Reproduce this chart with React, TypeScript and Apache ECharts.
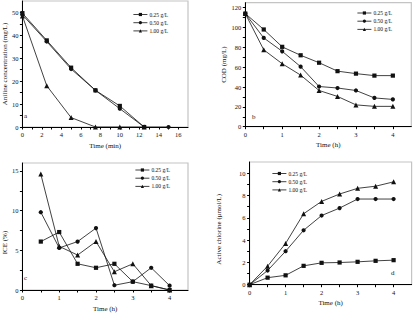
import React, { useEffect, useRef } from "react";
import * as echarts from "echarts";

const FONT = "'Liberation Serif', 'DejaVu Serif', serif";
const NAMES = ["0.25 g/L", "0.50 g/L", "1.00 g/L"];
const SYMBOLS = ["rect", "circle", "triangle"];

// Panel a: aniline concentration vs time (min)
const timeA = [0, 2.5, 5, 7.5, 10, 12.5, 15];
const a025 = [49.7, 37.8, 25.9, 16.0, 9.2, 0];
const a050 = [49.0, 37.3, 25.3, 16.0, 8.0, 0, 0];
const a100 = [48.5, 18.0, 4.1, 0, 0, 0];

// Panel b: COD vs time (h)
const timeB = [0, 0.5, 1, 1.5, 2, 2.5, 3, 3.5, 4];
const b025 = [114, 98, 80.5, 72, 64.5, 56, 53.5, 51.5, 51.5];
const b050 = [114, 89.5, 76, 60.5, 40.5, 39, 36.5, 29, 27.5];
const b100 = [114, 77.5, 63.5, 52, 36.5, 30.5, 22, 20.5, 20.5];

// Panel c: ICE vs time (h)
const timeC = [0.5, 1, 1.5, 2, 2.5, 3, 3.5, 4];
const c025 = [6.1, 7.3, 3.3, 2.8, 3.3, 1.05, 0.55, 0];
const c050 = [9.8, 5.3, 6.1, 7.8, 0.6, 1.05, 2.8, 0.55];
const c100 = [14.6, 5.5, 4.4, 6.1, 2.3, 3.3, 0.55, 0];

// Panel d: active chlorine vs time (h)
const timeD = [0, 0.5, 1, 1.5, 2, 2.5, 3, 3.5, 4];
const d025 = [0, 0.63, 0.84, 1.69, 1.96, 1.99, 2.05, 2.14, 2.2];
const d050 = [0, 1.27, 3.0, 4.88, 6.2, 6.87, 7.68, 7.68, 7.68];
const d100 = [0, 1.66, 3.7, 6.36, 7.47, 8.13, 8.64, 8.83, 9.22];

// Tick labels
const xTicksA = [0, 2, 4, 6, 8, 10, 12, 14, 16];
const yTicksA = [0, 10, 20, 30, 40, 50];
const xTicksH = [0, 1, 2, 3, 4];
const yTicksB = [0, 20, 40, 60, 80, 100, 120];
const yTicksC = [0, 5, 10, 15];
const yTicksD = [0, 2, 4, 6, 8, 10];

const withHalves = (ticks: number[]) => {
  const out: number[] = [];
  for (let i = 0; i < ticks.length; i++) {
    out.push(ticks[i]);
    if (i < ticks.length - 1) out.push((ticks[i] + ticks[i + 1]) / 2);
  }
  return out;
};

const pairs = (xs: number[], ys: number[]) => ys.map((y, i) => [xs[i], y]);

const axisCommon = {
  axisLine: { show: true, onZero: false, lineStyle: { color: "#000", width: 1 } },
  splitLine: { show: false },
};

function xAxis(grid: number, max: number, labels: number[], name: string) {
  return {
    ...axisCommon,
    type: "value",
    gridIndex: grid,
    min: 0,
    max,
    name,
    nameLocation: "middle",
    nameGap: 15,
    nameTextStyle: { fontFamily: FONT, fontSize: 7, color: "#111", fontWeight: "normal" },
    axisTick: { show: true, inside: false, length: 2.5, customValues: withHalves(labels), lineStyle: { color: "#000" } },
    axisLabel: { customValues: labels, fontFamily: FONT, fontSize: 6.5, color: "#111", margin: 4 },
  };
}

function yAxis(grid: number, max: number, labels: number[], name: string, gap: number, pad: number[]) {
  return {
    ...axisCommon,
    type: "value",
    gridIndex: grid,
    min: 0,
    max,
    name,
    nameLocation: "middle",
    nameGap: gap,
    nameTextStyle: { fontFamily: FONT, fontSize: 7, color: "#111", fontWeight: "normal", padding: pad },
    axisTick: { show: true, inside: false, length: 2.5, customValues: withHalves(labels), lineStyle: { color: "#000" } },
    axisLabel: { customValues: labels, fontFamily: FONT, fontSize: 6.5, color: "#111", margin: 4 },
  };
}

function lineSeries(grid: number, idx: number, data: number[][]) {
  return {
    type: "line",
    name: NAMES[idx],
    xAxisIndex: grid,
    yAxisIndex: grid,
    data,
    symbol: SYMBOLS[idx],
    symbolSize: idx === 2 ? 5 : 4.2,
    showAllSymbol: true,
    lineStyle: { color: "#111", width: 0.8 },
    itemStyle: { color: "#111" },
  };
}

function legend(left: number, top: number) {
  return {
    orient: "vertical",
    left,
    top,
    data: NAMES,
    itemWidth: 14,
    itemHeight: 4,
    itemGap: 2.2,
    padding: 0,
    selectedMode: false,
    lineStyle: { width: 0.8, color: "#111" },
    itemStyle: { color: "#111" },
    textStyle: { fontFamily: FONT, fontSize: 5.5, color: "#111", padding: [0, 0, 0, -3] },
  };
}

export default function App() {
  const ref = useRef<HTMLDivElement>(null);
  useEffect(() => {
    if (!ref.current) return;
    const chart = echarts.init(ref.current, undefined, { renderer: "svg" });
    const gridStyle = { show: true, borderColor: "#c4c4c4", borderWidth: 1.2, backgroundColor: "transparent" };
    chart.setOption({
      animation: false,
      backgroundColor: "#fff",
      grid: [
        { ...gridStyle, left: 19.5, top: 1, width: 168.5, height: 126 },
        { ...gridStyle, left: 245.3, top: 2.7, width: 166, height: 124 },
        { ...gridStyle, left: 19, top: 163, width: 169, height: 127 },
        { ...gridStyle, left: 249.6, top: 162, width: 162, height: 122.7 },
      ],
      xAxis: [
        xAxis(0, 17, xTicksA, "Time (min)"),
        xAxis(1, 4.5, xTicksH, "Time (h)"),
        xAxis(2, 4.5, xTicksH, "Time (h)"),
        xAxis(3, 4.5, xTicksH, "Time (h)"),
      ],
      yAxis: [
        yAxis(0, 55, yTicksA, "Aniline concentration (mg/L)", 12, [0, 0, 0, 0]),
        yAxis(1, 125, yTicksB, "COD (mg/L)", 18, [0, 0, 0, 0]),
        yAxis(2, 16, yTicksC, "ICE (%)", 12, [0, 32, 0, 0]),
        yAxis(3, 11, yTicksD, "Active chlorine (μmol/L)", 27, [0, 12, 0, 0]),
      ],
      legend: [legend(133, 11.5), legend(357, 10), legend(135, 167), legend(272, 170.5)],
      graphic: [
        { type: "text", left: 24, top: 112, style: { text: "a", font: `7px ${FONT}`, fill: "#111" } },
        { type: "text", left: 252, top: 113, style: { text: "b", font: `7px ${FONT}`, fill: "#111" } },
        { type: "text", left: 24, top: 274, style: { text: "c", font: `7px ${FONT}`, fill: "#111" } },
        { type: "text", left: 391, top: 269, style: { text: "d", font: `7px ${FONT}`, fill: "#111" } },
      ],
      series: [
        lineSeries(0, 0, pairs(timeA, a025)),
        lineSeries(0, 1, pairs(timeA, a050)),
        lineSeries(0, 2, pairs(timeA, a100)),
        lineSeries(1, 0, pairs(timeB, b025)),
        lineSeries(1, 1, pairs(timeB, b050)),
        lineSeries(1, 2, pairs(timeB, b100)),
        lineSeries(2, 0, pairs(timeC, c025)),
        lineSeries(2, 1, pairs(timeC, c050)),
        lineSeries(2, 2, pairs(timeC, c100)),
        lineSeries(3, 0, pairs(timeD, d025)),
        lineSeries(3, 1, pairs(timeD, d050)),
        lineSeries(3, 2, pairs(timeD, d100)),
      ],
    });
    return () => chart.dispose();
  }, []);
  return <div ref={ref} style={{ position: "fixed", left: 0, top: 0, width: 413, height: 313 }} />;
}
